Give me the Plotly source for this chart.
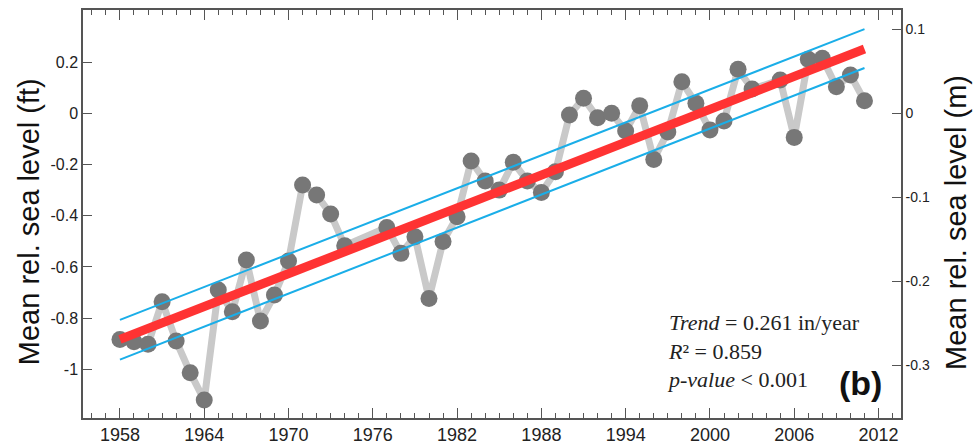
import plotly.graph_objects as go

# ---- data (mean relative sea level, ft) ----
years = [1958, 1959, 1960, 1961, 1962, 1963, 1964, 1965, 1966, 1967, 1968, 1969,
         1970, 1971, 1972, 1973, 1974, 1977, 1978, 1979, 1980, 1981, 1982, 1983,
         1984, 1985, 1986, 1987, 1988, 1989, 1990, 1991, 1992, 1993, 1994, 1995,
         1996, 1997, 1998, 1999, 2000, 2001, 2002, 2003, 2005, 2006, 2007, 2008,
         2009, 2010, 2011]
level_ft = [-0.883, -0.892, -0.902, -0.736, -0.889, -1.013, -1.120, -0.690, -0.775,
            -0.573, -0.811, -0.710, -0.577, -0.280, -0.319, -0.393, -0.517, -0.446,
            -0.547, -0.482, -0.723, -0.501, -0.404, -0.186, -0.264, -0.300, -0.191,
            -0.264, -0.309, -0.228, -0.007, 0.059, -0.017, 0.000, -0.069, 0.030,
            -0.180, -0.073, 0.123, 0.039, -0.065, -0.030, 0.172, 0.095, 0.130,
            -0.094, 0.211, 0.215, 0.104, 0.150, 0.049]

trend_years = [1958, 2011]
trend_ft = [-0.883, 0.251]
upper_ft = [-0.807, 0.329]
lower_ft = [-0.962, 0.177]

x_ticks = [1958, 1964, 1970, 1976, 1982, 1988, 1994, 2000, 2006, 2012]
y_ticks_ft = [0.2, 0, -0.2, -0.4, -0.6, -0.8, -1]
y_ticklabels_ft = ["0.2", "0", "-0.2", "-0.4", "-0.6", "-0.8", "-1"]
y_ticks_m = [0.1, 0, -0.1, -0.2, -0.3]
y_ticklabels_m = ["0.1", "0", "-0.1", "-0.2", "-0.3"]

FT_TO_M = 0.3048
y_range_ft = [-1.190, 0.4035]
x_range = [1955.37, 2013.6]

SANS = "Arial, Liberation Sans, sans-serif"
SERIF = "Times New Roman, Liberation Serif, serif"
AXIS_COL = "#555555"

fig = go.Figure()

fig.add_trace(go.Scatter(
    x=years, y=level_ft, mode="lines+markers",
    line=dict(color="#c9c9c9", width=7),
    marker=dict(color="#777777", size=17),
    showlegend=False, hoverinfo="skip"))

fig.add_trace(go.Scatter(
    x=trend_years, y=upper_ft, mode="lines",
    line=dict(color="#1aaee8", width=2), showlegend=False))
fig.add_trace(go.Scatter(
    x=trend_years, y=lower_ft, mode="lines",
    line=dict(color="#1aaee8", width=2), showlegend=False))
fig.add_trace(go.Scatter(
    x=trend_years, y=trend_ft, mode="lines",
    line=dict(color="#ff3333", width=9), showlegend=False))

# invisible traces to anchor the right (m) axis and the top tick axis
fig.add_trace(go.Scatter(
    x=[x_range[0]], y=[0], yaxis="y2", mode="markers",
    marker=dict(opacity=0), showlegend=False, hoverinfo="skip"))
fig.add_trace(go.Scatter(
    x=[x_range[0]], y=[0], xaxis="x2", mode="markers",
    marker=dict(opacity=0), showlegend=False, hoverinfo="skip"))

common_x = dict(
    range=x_range, tickmode="array", tickvals=x_ticks,
    showgrid=False, zeroline=False, automargin=False,
    showline=True, linecolor=AXIS_COL, linewidth=1.5,
    ticks="inside", ticklen=10, tickwidth=1.2, tickcolor=AXIS_COL,
    minor=dict(dtick=1, tick0=1958, ticks="inside", ticklen=5,
               tickwidth=1, tickcolor=AXIS_COL, showgrid=False),
)

fig.update_layout(
    width=974, height=445,
    margin=dict(l=83, r=73, t=10, b=27),
    paper_bgcolor="white", plot_bgcolor="white",
    xaxis=dict(**common_x,
               tickfont=dict(family=SANS, size=18, color="#222222")),
    xaxis2=dict(**common_x, overlaying="x", side="top",
                showticklabels=False),
    yaxis=dict(
        range=y_range_ft, tickmode="array", tickvals=y_ticks_ft,
        ticktext=y_ticklabels_ft, automargin=False,
        showgrid=False, zeroline=False,
        showline=True, linecolor=AXIS_COL, linewidth=1.5,
        ticks="inside", ticklen=9, tickwidth=1.2, tickcolor=AXIS_COL,
        tickfont=dict(family=SANS, size=16, color="#222222"),
    ),
    yaxis2=dict(
        range=[y_range_ft[0] * FT_TO_M, y_range_ft[1] * FT_TO_M],
        overlaying="y", side="right", automargin=False,
        tickmode="array", tickvals=y_ticks_m, ticktext=y_ticklabels_m,
        showgrid=False, zeroline=False,
        showline=True, linecolor=AXIS_COL, linewidth=1.5,
        ticks="inside", ticklen=9, tickwidth=1.2, tickcolor=AXIS_COL,
        tickfont=dict(family=SANS, size=14, color="#222222"),
    ),
    annotations=[
        dict(text="Mean rel. sea level (ft)", xref="paper", yref="paper",
             x=-0.066, y=0.48, textangle=-90, showarrow=False,
             xanchor="center", yanchor="middle",
             font=dict(family=SANS, size=29, color="#111111")),
        dict(text="Mean rel. sea level (m)", xref="paper", yref="paper",
             x=1.067, y=0.48, textangle=-90, showarrow=False,
             xanchor="center", yanchor="middle",
             font=dict(family=SANS, size=29, color="#111111")),
        dict(text="<i>Trend</i> = 0.261 in/year<br><i>R</i>² = 0.859<br><i>p-value</i> < 0.001",
             xref="x", yref="y", x=1996.8, y=-0.929, showarrow=False,
             xanchor="left", yanchor="middle", align="left",
             font=dict(family=SERIF, size=22, color="#222222")),
        dict(text="<b>(b)</b>", xref="x", yref="y", x=2010.7, y=-1.053,
             showarrow=False, xanchor="center", yanchor="middle",
             font=dict(family=SANS, size=34, color="#111111")),
    ],
)

fig.write_html("out.html")
